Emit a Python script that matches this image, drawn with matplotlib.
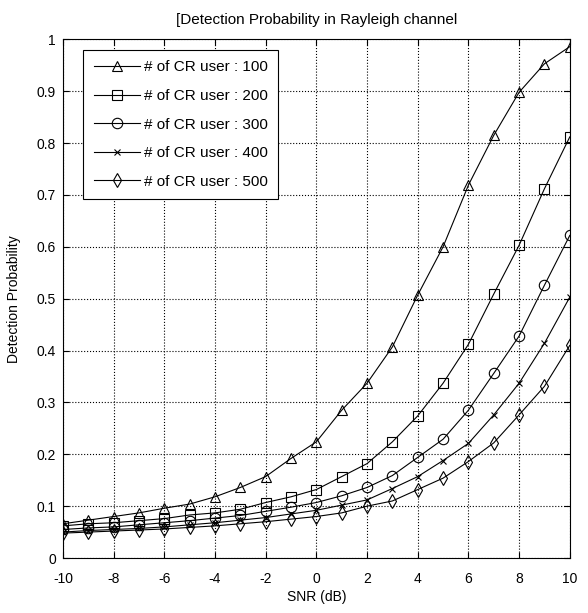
import numpy as np
import matplotlib.pyplot as plt

snr = np.arange(-10, 11)

pd_100 = [0.066, 0.073, 0.080, 0.087, 0.096, 0.104, 0.118, 0.136, 0.157, 0.192, 0.224,
          0.285, 0.337, 0.407, 0.507, 0.600, 0.719, 0.815, 0.898, 0.953, 0.986]
pd_200 = [0.062, 0.066, 0.068, 0.072, 0.076, 0.083, 0.087, 0.094, 0.107, 0.118, 0.132,
          0.157, 0.182, 0.224, 0.274, 0.337, 0.412, 0.509, 0.603, 0.712, 0.812]
pd_300 = [0.055, 0.058, 0.060, 0.064, 0.068, 0.072, 0.077, 0.082, 0.090, 0.098, 0.107,
          0.120, 0.136, 0.159, 0.194, 0.229, 0.285, 0.356, 0.428, 0.526, 0.622]
pd_400 = [0.050, 0.053, 0.055, 0.057, 0.060, 0.064, 0.068, 0.073, 0.078, 0.085, 0.092,
          0.102, 0.112, 0.134, 0.157, 0.188, 0.221, 0.276, 0.337, 0.414, 0.503]
pd_500 = [0.048, 0.050, 0.052, 0.054, 0.056, 0.059, 0.062, 0.066, 0.070, 0.075, 0.080,
          0.087, 0.100, 0.110, 0.132, 0.154, 0.186, 0.222, 0.276, 0.331, 0.410]

labels = ['# of CR user : 100', '# of CR user : 200', '# of CR user : 300',
          '# of CR user : 400', '# of CR user : 500']
markers = ['^', 's', 'o', 'x', 'd']

plt.rcParams['font.family'] = ['Liberation Sans', 'DejaVu Sans']
plt.rcParams['axes.unicode_minus'] = False

fig = plt.figure(figsize=(5.88, 6.13), dpi=100)
ax = fig.add_axes([0.107, 0.0897, 0.862, 0.846])

series = [pd_100, pd_200, pd_300, pd_400, pd_500]
for y, m, lab in zip(series, markers, labels):
    ms = 5 if m == 'x' else 7.5
    ax.plot(snr, y, color='black', linewidth=0.8, marker=m, markersize=ms,
            markerfacecolor='none', markeredgecolor='black', markeredgewidth=0.8,
            label=lab)

ax.set_xlim(-10, 10)
ax.set_ylim(0, 1)
ax.set_xticks(np.arange(-10, 11, 2))
ax.set_yticks(np.arange(0, 1.01, 0.1))
ax.set_yticklabels(['0', '0.1', '0.2', '0.3', '0.4', '0.5', '0.6', '0.7', '0.8', '0.9', '1'])
ax.tick_params(direction='in', top=True, right=True, labelsize=10, length=4)
ax.tick_params(axis='y', pad=5)
ax.tick_params(axis='x', pad=10)
ax.grid(True, color='black', linestyle=':', linewidth=0.8)

ax.set_xlabel('SNR (dB)', fontsize=10, labelpad=3)
ax.set_ylabel('Detection Probability', fontsize=10, labelpad=11)
ax.set_title('[Detection Probability in Rayleigh channel', fontsize=11, pad=11)

leg = ax.legend(loc='upper left', fontsize=11, fancybox=False, framealpha=1,
                edgecolor='black', handlelength=3.0, handletextpad=0.26,
                borderpad=0.7, labelspacing=0.95, borderaxespad=0.0,
                bbox_to_anchor=(0.04, 0.98))
leg.get_frame().set_linewidth(0.8)

fig.savefig('out.png', dpi=100)
